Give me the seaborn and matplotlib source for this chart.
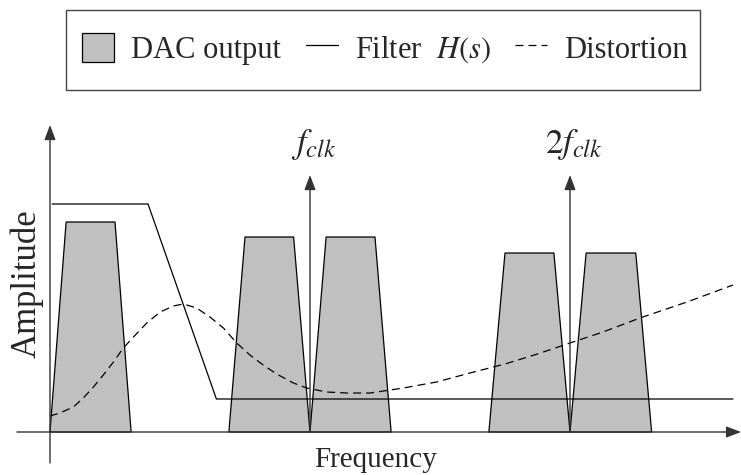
import matplotlib
matplotlib.use("Agg")
import matplotlib.pyplot as plt
from matplotlib.patches import Patch, Rectangle
from matplotlib.lines import Line2D
import numpy as np
import pandas as pd
import seaborn as sns

# frequency in units of f_clk, amplitude in arbitrary units
# DAC output images: bottom-left, top-left, top-right, bottom-right, height
trap_x = [
    [0.000, 0.062, 0.250, 0.312],
    [0.688, 0.750, 0.937, 1.000],
    [1.000, 1.062, 1.250, 1.312],
    [1.688, 1.750, 1.938, 2.000],
    [2.000, 2.062, 2.253, 2.314],
]
trap_h = [2.10, 1.95, 1.95, 1.79, 1.79]

# filter H(s)
filt_x = [0.008, 0.377, 0.640, 2.627]
filt_y = [2.28, 2.28, 0.33, 0.33]

# distortion curve
dist_x = [0.0, 0.038, 0.09, 0.128, 0.167, 0.205, 0.244, 0.282, 0.321, 0.372,
          0.424, 0.474, 0.513, 0.564, 0.615, 0.667, 0.718, 0.769, 0.82,
          0.872, 0.936, 0.987, 1.064, 1.141, 1.232, 1.359, 1.487, 1.615,
          1.75, 1.875, 2.0, 2.127, 2.269, 2.45, 2.627]
dist_y = [0.16, 0.19, 0.25, 0.34, 0.45, 0.57, 0.70, 0.84, 0.95, 1.09,
          1.20, 1.26, 1.28, 1.24, 1.15, 1.04, 0.89, 0.77, 0.67,
          0.58, 0.49, 0.44, 0.40, 0.39, 0.39, 0.44, 0.50, 0.59,
          0.68, 0.78, 0.89, 1.00, 1.14, 1.30, 1.47]

clk_x = [1.0, 2.0]
clk_labels = [r"$f_{clk}$", r"$2f_{clk}$"]

sns.set_style("white")
plt.rcParams["font.family"] = ["Liberation Serif", "DejaVu Serif"]
plt.rcParams["mathtext.fontset"] = "stix"

fig = plt.figure(figsize=(7.41, 4.75), dpi=100)
ax = fig.add_axes([0, 0, 1, 1])
ax.set_xlim(-50 / 260, 691 / 260)
ax.set_ylim(-0.43, 4.32)
ax.axis("off")

gray = "#c0c0c0"
lw = 0.9

for xs, h in zip(trap_x, trap_h):
    ax.fill(xs, [0, h, h, 0], facecolor=gray, edgecolor="k", lw=lw, zorder=1)

filt = pd.DataFrame({"f": filt_x, "a": filt_y})
sns.lineplot(data=filt, x="f", y="a", ax=ax, color="k", lw=lw,
             sort=False, estimator=None, zorder=3)
dist = pd.DataFrame({"f": dist_x, "a": dist_y})
sns.lineplot(data=dist, x="f", y="a", ax=ax, color="k", lw=lw,
             sort=False, estimator=None, zorder=3)
ax.lines[-1].set_linestyle((0, (6.4, 4.0)))

axc = "#333333"
arrow = dict(arrowstyle="-|>,head_length=0.45,head_width=0.17", color=axc,
             lw=1.0, shrinkA=0, shrinkB=0, mutation_scale=20)
# axes
ax.annotate("", xy=(0, 3.07), xytext=(0, -0.31), arrowprops=arrow, zorder=4)
ax.annotate("", xy=(2.658, 0), xytext=(-0.127, 0), arrowprops=arrow, zorder=4)
# clock arrows
for cx, lab in zip(clk_x, clk_labels):
    ax.annotate("", xy=(cx, 2.57), xytext=(cx, 0), arrowprops=arrow, zorder=4)
    ax.text(cx + 0.015, 2.79, lab, ha="center", va="baseline", fontsize=25)

ax.set_xlabel("")
ax.set_ylabel("")
ax.text(1.254, -0.35, "Frequency", ha="center", va="baseline", fontsize=21)
ax.text(-0.09, 1.48, "Amplitude", ha="center", va="center", rotation=90,
        fontsize=25)

# legend
handles = [
    Patch(facecolor=gray, edgecolor="k", lw=lw),
    Line2D([], [], color="k", lw=lw),
    Line2D([], [], color="k", lw=lw, linestyle=(0, (6.4, 4.0))),
]
labels = ["DAC output", r"Filter  $H(s)$", "Distortion"]
ax.legend(handles, labels, ncol=3, frameon=False, fontsize=22,
          loc="center left", bbox_to_anchor=(82 / 741, 1 - 49 / 475),
          bbox_transform=fig.transFigure, borderpad=0,
          handlelength=1.05, handleheight=1.08, handletextpad=0.56,
          columnspacing=0.8, borderaxespad=0)
fig.patches.append(Rectangle((66 / 741, 1 - 90 / 475), 634 / 741, 80 / 475,
                             transform=fig.transFigure, fill=False,
                             edgecolor="#444444", lw=1.0))

fig.savefig("out.png", dpi=100)
